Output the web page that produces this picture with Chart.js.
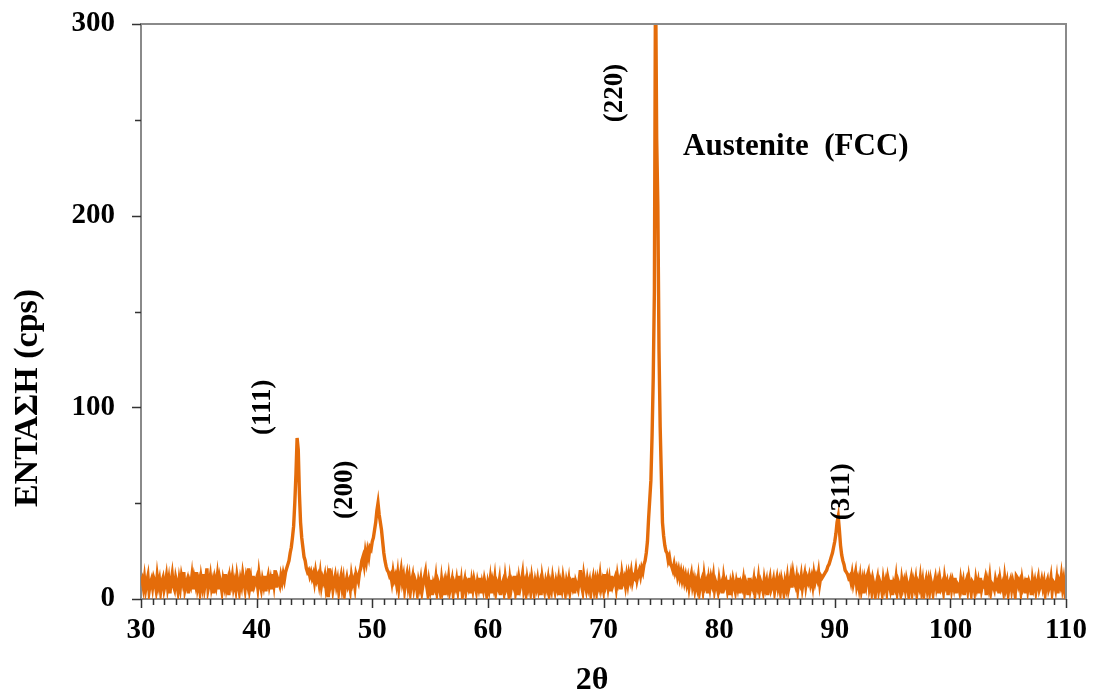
<!DOCTYPE html>
<html>
<head>
<meta charset="utf-8">
<script src="https://cdn.jsdelivr.net/npm/chart.js@4.4.1/dist/chart.umd.min.js"></script>
<style>
  html, body { margin: 0; padding: 0; background: #fff; }
  canvas { display: block; }
</style>
</head>
<body>
<canvas id="xrd" width="1096" height="700"></canvas>
<script>
// Diffractogram sampling grid (degrees 2θ)
const startAngle = 30;
const angleStep = 0.1;

// Measured intensity (cps), one row per degree from 30° to 110°
const intensity = [
  8, 10, 6, 11, 5, 9, 12, 4, 8, 10,
  6, 11, 9, 5, 12, 7, 10, 4, 9, 11,
  5, 8, 12, 6, 10, 3, 9, 13, 7, 5,
  11, 8, 4, 10, 6, 12, 9, 14, 5, 8,
  10, 3, 9, 7, 12, 5, 11, 8, 14, 6,
  9, 4, 11, 7, 13, 6, 10, 16, 5, 8,
  12, 6, 9, 3, 10, 7, 12, 5, 11, 8,
  4, 10, 7, 13, 6, 9, 2, 11, 8, 12,
  6, 9, 5, 12, 8, 4, 10, 7, 13, 9,
  5, 11, 8, 16, 6, 10, 4, 12, 7, 9,
  11, 6, 13, 8, 5, 10, 7, 12, 4, 9,
  12, 7, 10, 5, 13, 8, 15, 6, 11, 9,
  7, 12, 9, 13, 10, 14, 16, 18, 20, 24,
  27, 32, 38, 50, 65, 84, 78, 55, 40, 32,
  27, 22, 20, 16, 14, 15, 12, 14, 11, 13,
  9, 14, 10, 12, 8, 13, 7, 11, 9, 12,
  6, 10, 1, 16, 8, 11, 5, 9, 12, 7,
  10, 4, 9, 12, 6, 10, 3, 8, 11, 7,
  9, 5, 12, 8, 10, 6, 13, 11, 9, 14,
  16, 20, 22, 18, 24, 20, 25, 22, 27, 26,
  30, 32, 36, 40, 46, 50, 44, 40, 36, 30,
  24, 20, 17, 15, 14, 12, 13, 9, 14, 10,
  12, 8, 13, 6, 11, 15, 9, 12, 5, 10,
  13, 7, 11, 4, 9, 12, 6, 10, 8, 3,
  9, 6, 10, 4, 8, 11, 14, 7, 3, 9,
  5, 10, 2, 8, 6, 11, 4, 9, 7, 3,
  10, 5, 8, 2, 9, 6, 11, 4, 7, 10,
  3, 8, 6, 10, 5, 12, 4, 9, 2, 7,
  10, 4, 8, 6, 11, 3, 9, 5, 10, 7,
  4, 9, 6, 11, 3, 8, 5, 10, 7, 2,
  8, 5, 10, 3, 9, 6, 11, 4, 8, 6,
  10, 2, 7, 9, 4, 11, 6, 8, 3, 10,
  5, 9, 7, 12, 4, 8, 2, 10, 6, 9,
  13, 5, 8, 3, 10, 6, 9, 4, 11, 7,
  3, 9, 6, 10, 5, 8, 2, 11, 7, 4,
  9, 6, 10, 3, 8, 5, 11, 7, 4, 9,
  6, 10, 2, 8, 5, 11, 7, 3, 9, 6,
  10, 4, 8, 6, 11, 3, 9, 7, 5, 10,
  15, 7, 4, 12, 8, 5, 10, 6, 9, 3,
  8, 11, 5, 9, 4, 10, 7, 12, 6, 9,
  5, 13, 8, 11, 6, 10, 4, 12, 7, 9,
  11, 6, 12, 8, 10, 5, 13, 9, 11, 7,
  12, 8, 13, 10, 14, 9, 12, 11, 15, 10,
  13, 15, 12, 16, 14, 18, 20, 24, 30, 42,
  52, 62, 85, 115, 160, 330, 240, 205, 130, 90,
  65, 40, 33, 28, 25, 24, 20, 22, 18, 17,
  15, 18, 14, 16, 12, 15, 11, 14, 10, 13,
  9, 12, 8, 11, 6, 10, 13, 7, 10, 5,
  9, 6, 11, 4, 8, 10, 5, 12, 7, 9,
  3, 10, 6, 11, 8, 12, 5, 9, 7, 4,
  10, 6, 8, 3, 11, 7, 9, 5, 10, 2,
  8, 5, 10, 7, 4, 9, 6, 11, 3, 8,
  6, 10, 4, 9, 7, 2, 11, 5, 8, 6,
  10, 3, 8, 6, 11, 5, 9, 7, 4, 10,
  6, 9, 2, 8, 11, 5, 7, 10, 4, 8,
  11, 6, 9, 4, 10, 7, 3, 9, 6, 11,
  5, 8, 12, 6, 13, 9, 7, 11, 5, 10,
  8, 12, 6, 10, 13, 7, 11, 9, 12, 8,
  11, 7, 13, 9, 12, 10, 14, 8, 12, 11,
  12, 13, 14, 15, 17, 18, 20, 22, 24, 27,
  30, 34, 40, 43, 36, 28, 23, 20, 18, 15,
  14, 13, 11, 12, 9, 13, 8, 11, 14, 7,
  10, 6, 11, 5, 9, 3, 10, 7, 12, 14,
  6, 9, 4, 10, 7, 2, 8, 11, 5, 9,
  7, 3, 10, 6, 9, 4, 11, 8, 5, 10,
  2, 8, 6, 11, 4, 9, 7, 3, 10, 6,
  9, 5, 10, 7, 2, 8, 11, 4, 9, 6,
  10, 3, 8, 6, 11, 5, 9, 2, 7, 10,
  5, 9, 4, 10, 7, 3, 8, 11, 6, 9,
  3, 10, 6, 8, 4, 11, 7, 9, 2, 8,
  10, 5, 9, 6, 11, 3, 8, 7, 4, 10,
  6, 9, 2, 8, 10, 5, 11, 7, 3, 9,
  8, 4, 10, 6, 9, 3, 11, 5, 8, 7,
  10, 2, 9, 6, 11, 4, 8, 7, 5, 10,
  7, 9, 3, 10, 6, 8, 4, 11, 6, 9,
  3, 8, 10, 5, 9, 6, 2, 12, 11, 7,
  9, 4, 10, 6, 8, 3, 11, 5, 9, 7,
  2, 10, 6, 9, 4, 8, 11, 5, 7, 10,
  6, 9, 3, 8, 10, 5, 7, 11, 4, 9,
  8, 5, 10, 3, 9, 7, 12, 6, 10, 4,
  8
];

// Axis tick values
const xTicks = [30, 40, 50, 60, 70, 80, 90, 100, 110];
const yTicks = [0, 100, 200, 300];

// Reflection labels (Miller indices) and the phase caption
const peakLabels = ['(111)', '(200)', '(220)', '(311)'];
const phaseCaption = 'Austenite  (FCC)';
const xTitle = '2θ';
const yTitle = 'ΕΝΤΑΣΗ (cps)';

const points = intensity.map((v, i) => ({ x: +(startAngle + i * angleStep).toFixed(1), y: v }));

const SERIF = "'Liberation Serif', 'Times New Roman', serif";
const LINE_COLOR = '#E46C0A';
const FRAME_COLOR = '#8a8a8a';
const TICK_COLOR = '#333333';

// Frame, minor/major tick marks, rotated peak labels and axis titles
const decorations = {
  id: 'decorations',
  afterDraw(chart) {
    const { ctx, chartArea: a, scales: { x, y } } = chart;
    ctx.save();

    // top and right border of the plot box
    ctx.strokeStyle = FRAME_COLOR;
    ctx.lineWidth = 2;
    ctx.beginPath();
    ctx.moveTo(a.left, a.top);
    ctx.lineTo(a.right, a.top);
    ctx.lineTo(a.right, a.bottom);
    ctx.stroke();

    // tick marks: every degree on x, every 50 cps on y
    ctx.strokeStyle = TICK_COLOR;
    ctx.lineWidth = 1.5;
    ctx.beginPath();
    for (let v = x.min; v <= x.max; v += 1) {
      const px = Math.round(x.getPixelForValue(v)) + 0.5;
      const len = v % 10 === 0 ? 9 : 6;
      ctx.moveTo(px, a.bottom);
      ctx.lineTo(px, a.bottom + len);
    }
    for (let v = y.min; v <= y.max; v += 50) {
      const py = Math.round(y.getPixelForValue(v)) + 0.5;
      const len = v % 100 === 0 ? 9 : 6;
      ctx.moveTo(a.left, py);
      ctx.lineTo(a.left - len, py);
    }
    ctx.stroke();

    // Miller index labels, written vertically near their reflections
    const anchors = [[40.55, 100], [47.64, 57], [70.99, 264], [90.63, 56]];
    ctx.fillStyle = '#000';
    ctx.font = 'bold 27px ' + SERIF;
    ctx.textAlign = 'center';
    ctx.textBaseline = 'middle';
    peakLabels.forEach((t, i) => {
      ctx.save();
      ctx.translate(x.getPixelForValue(anchors[i][0]), y.getPixelForValue(anchors[i][1]));
      ctx.rotate(-Math.PI / 2);
      ctx.fillText(t, 0, 0);
      ctx.restore();
    });

    // phase caption
    ctx.font = 'bold 31px ' + SERIF;
    ctx.textAlign = 'left';
    ctx.textBaseline = 'alphabetic';
    ctx.fillText(phaseCaption, x.getPixelForValue(76.88), y.getPixelForValue(231.6));

    // axis titles
    ctx.font = 'bold 32px ' + SERIF;
    ctx.textAlign = 'center';
    ctx.textBaseline = 'middle';
    ctx.fillText(xTitle, 592, 681);
    ctx.font = 'bold 34px ' + SERIF;
    ctx.save();
    ctx.translate(28, 398);
    ctx.rotate(-Math.PI / 2);
    ctx.fillText(yTitle, 0, 0);
    ctx.restore();

    ctx.restore();
  }
};

new Chart(document.getElementById('xrd'), {
  type: 'line',
  data: {
    datasets: [{
      data: points,
      borderColor: LINE_COLOR,
      borderWidth: 3.4,
      pointRadius: 0,
      tension: 0,
      fill: false
    }]
  },
  options: {
    responsive: false,
    animation: false,
    devicePixelRatio: 1,
    parsing: false,
    layout: { padding: { top: 24, right: 30, left: 0, bottom: 0 } },
    plugins: { legend: { display: false }, tooltip: { enabled: false } },
    scales: {
      x: {
        type: 'linear',
        min: 30,
        max: 110,
        afterBuildTicks: s => { s.ticks = xTicks.map(v => ({ value: v })); },
        afterFit: s => { s.height = 101; s.paddingLeft = 0; s.paddingRight = 0; },
        ticks: {
          color: '#000',
          padding: 14,
          maxRotation: 0,
          autoSkip: false,
          font: { family: SERIF, size: 29, weight: 'bold' },
          callback: v => String(v)
        },
        grid: { drawOnChartArea: false, drawTicks: false },
        border: { display: true, color: FRAME_COLOR, width: 2 }
      },
      y: {
        type: 'linear',
        min: 0,
        max: 300,
        afterBuildTicks: s => { s.ticks = yTicks.map(v => ({ value: v })); },
        afterFit: s => { s.width = 141; s.paddingTop = 0; s.paddingBottom = 0; },
        ticks: {
          color: '#000',
          padding: 26,
          autoSkip: false,
          font: { family: SERIF, size: 29, weight: 'bold' },
          callback: v => String(v)
        },
        grid: { drawOnChartArea: false, drawTicks: false },
        border: { display: true, color: FRAME_COLOR, width: 2 }
      }
    }
  },
  plugins: [decorations]
});
</script>
</body>
</html>
